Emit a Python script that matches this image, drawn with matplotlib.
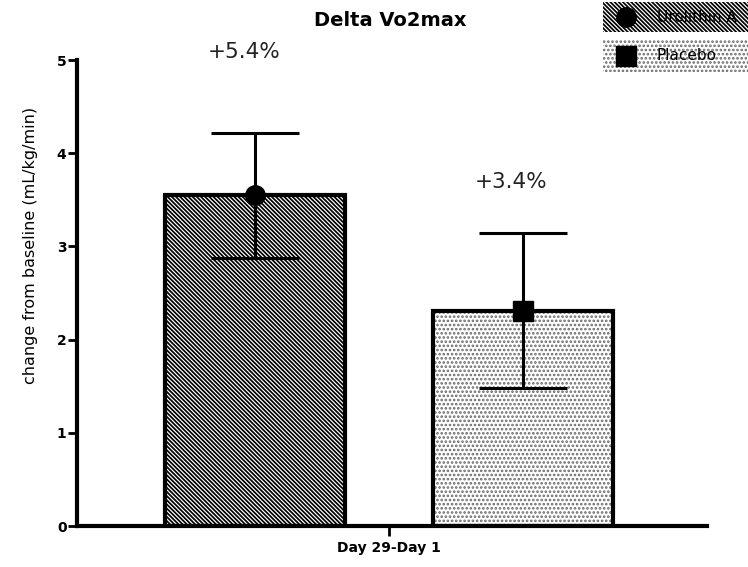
import matplotlib
matplotlib.use("Agg")
import matplotlib.pyplot as plt
from matplotlib.patches import Rectangle

# Change in VO2max, Day 29 minus Day 1 (mean +/- SEM)
groups = ['Urolithin A', 'Placebo']
means = [3.55, 2.31]
sem = [0.67, 0.83]
pct_change = ['+5.4%', '+3.4%']
xtick_label = 'Day 29-Day 1'

# fine diagonal lines for the treatment, light stipple for placebo
hatches = ['\\' * 8, '....']
hatch_colors = ['black', '#6a6a6a']
markers = ['o', 's']

plt.rcParams['font.family'] = 'DejaVu Sans'
plt.rcParams['hatch.linewidth'] = 1.25

fig = plt.figure(figsize=(7.48, 5.67), dpi=100)
ax = fig.add_axes([77 / 748, 1 - 526 / 567, 630 / 748, 466 / 567])

xpos = [-0.5, 0.5]
width = 0.67
for x, m, e, h, hc, mk in zip(xpos, means, sem, hatches, hatch_colors, markers):
    # pattern layer, then the black outline on top
    ax.bar(x, m, width=width, color='white', edgecolor=hc,
           linewidth=0, hatch=h, zorder=2)
    ax.bar(x, m, width=width, color='none', edgecolor='black',
           linewidth=3, zorder=2.5)
    ax.errorbar(x, m, yerr=e, fmt=mk, color='black', ms=14,
                elinewidth=2.2, capsize=32, capthick=2.2, zorder=3)

ax.text(xpos[0] - 0.04, 5.09, pct_change[0], ha='center', va='center',
        fontsize=15.5, color='#222222')
ax.text(xpos[1] - 0.045, 3.69, pct_change[1], ha='center', va='center',
        fontsize=15.5, color='#222222')

ax.set_xlim(-1.164, 1.187)
ax.set_ylim(0, 5)
ax.set_yticks(range(6))
ax.set_xticks([0])
ax.set_xticklabels([xtick_label], fontsize=10, fontweight='bold')
for lbl in ax.get_yticklabels():
    lbl.set_fontsize(10)
    lbl.set_fontweight('bold')
ax.tick_params(axis='y', length=6.5, width=2, pad=1)
ax.tick_params(axis='x', length=7, width=2, pad=4)
for side in ['top', 'right']:
    ax.spines[side].set_visible(False)
for side in ['left', 'bottom']:
    ax.spines[side].set_linewidth(3)

ax.set_ylabel('change from baseline (mL/kg/min)', fontsize=11.5)
ax.yaxis.set_label_coords(-0.062, 0.603)

fig.text(390 / 748, 1 - 20 / 567, 'Delta Vo2max', ha='center', va='center',
         fontsize=14, fontweight='bold')

# legend drawn as patterned rows in the top-right corner
lax = fig.add_axes([603 / 748, 1 - 74 / 567, 145 / 748, 74 / 567])
lax.set_xlim(0, 145)
lax.set_ylim(74, 0)
lax.axis('off')
rows = [(2, 30), (40, 32)]
for (y0, hgt), h, hc, mk, name in zip(rows, hatches, hatch_colors, markers, groups):
    lax.add_patch(Rectangle((0, y0), 160, hgt, facecolor='white',
                            edgecolor=hc, linewidth=0, hatch=h,
                            clip_on=False))
    lax.plot([23], [y0 + hgt / 2], marker=mk, color='black', ms=14,
             clip_on=False)
    lax.text(54, y0 + hgt / 2, name, ha='left', va='center', fontsize=11,
             clip_on=False)

fig.savefig('out.png', dpi=100)
